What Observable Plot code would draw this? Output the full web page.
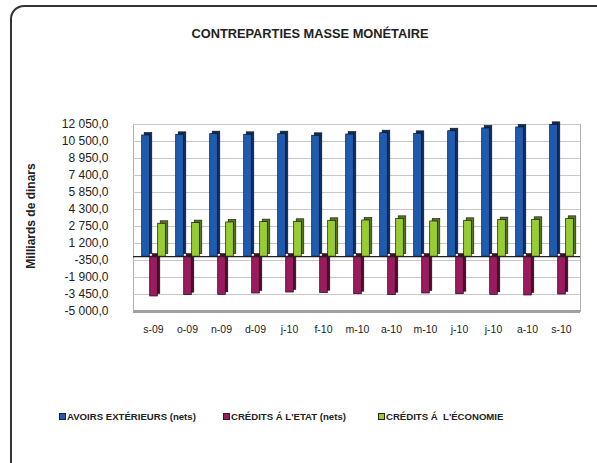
<!DOCTYPE html>
<html>
<head>
<meta charset="utf-8">
<script src="https://cdn.jsdelivr.net/npm/d3@7"></script>
<script src="https://cdn.jsdelivr.net/npm/@observablehq/plot@0.6"></script>
<style>
  body { margin:0; background:#fff; font-family:"Liberation Sans", Arial, sans-serif; }
  #wrap { position:relative; width:597px; height:463px; overflow:hidden; }
  #border { position:absolute; left:10px; top:5px; width:620px; height:480px; border:2px solid #333; border-top-left-radius:14px; box-sizing:border-box; }
  #title { position:absolute; left:0; width:620px; top:26px; text-align:center; font-weight:bold; font-size:12.8px; color:#222; }
  #ylab { position:absolute; left:31px; top:216px; transform:translate(-50%,-50%) rotate(-90deg); font-weight:bold; font-size:12px; color:#222; white-space:nowrap; }
  #chart { position:absolute; left:0; top:100px; }
  .leg { position:absolute; top:411px; font-weight:bold; font-size:9.6px; color:#222; white-space:nowrap; display:flex; align-items:center; }
  .leg i { display:inline-block; width:5px; height:5px; border:1px solid #222; margin-right:1px; }
</style>
</head>
<body>
<div id="wrap">
  <div id="border"></div>
  <div id="title">CONTREPARTIES MASSE MONÉTAIRE</div>
  <div id="ylab">Milliards de dinars</div>
  <div id="chart"></div>
  <div class="leg" style="left:59px"><i style="background:#1f5cb0"></i>AVOIRS EXTÉRIEURS (nets)</div>
  <div class="leg" style="left:223px"><i style="background:#9b1b5f"></i>CRÉDITS Á L'ETAT (nets)</div>
  <div class="leg" style="left:378px"><i style="background:#99cc33"></i>CRÉDITS Á&nbsp; L'ÉCONOMIE</div>
</div>
<script>
const months = ["s-09","o-09","n-09","d-09","j-10","f-10","m-10","a-10","m-10","j-10","j-10","a-10","s-10"];
const avoirs = [11050, 11110, 11170, 11110, 11170, 11020, 11140, 11260, 11200, 11440, 11690, 11780, 12020];
const creditsEtat = [-3630, -3510, -3480, -3360, -3270, -3330, -3420, -3510, -3360, -3420, -3480, -3540, -3450];
const creditsEco = [3000, 3060, 3120, 3150, 3180, 3270, 3300, 3450, 3210, 3270, 3330, 3360, 3450];
const yTicks = [12050, 10500, 8950, 7400, 5850, 4300, 2750, 1200, -350, -1900, -3450, -5000];

const fr = d3.formatLocale({decimal: ",", thousands: " ", grouping: [3], currency: ["", ""], minus: "-"});
const fmt = fr.format(",.1f");
const idx = d3.range(months.length);

const W = 8, inset = (447 / 13 - W) / 2;
function bars(vals, dx, fill, side) {
  return [
    Plot.barY(idx, {x: d => d, y: i => vals[i], fill: side, insetLeft: inset, insetRight: inset, dx: dx + 2.5, dy: -2.5, stroke: "#111", strokeWidth: 0.6}),
    Plot.barY(idx, {x: d => d, y: i => vals[i], fill, insetLeft: inset, insetRight: inset, dx, stroke: "#111", strokeWidth: 0.7})
  ];
}

const chart = Plot.plot({
  width: 597, height: 240,
  marginTop: 24, marginBottom: 29, marginLeft: 133, marginRight: 17,
  style: {fontFamily: "Liberation Sans, Arial, sans-serif", color: "#222", background: "transparent"},
  x: {domain: idx, type: "band", padding: 0},
  y: {domain: [-5000, 12050]},
  marks: [
    Plot.frame({stroke: "#b0b0b0", fill: "#fff"}),
    Plot.ruleY(yTicks, {stroke: "#c8c8c8"}),
    Plot.ruleY([-5000], {stroke: "#a0a0a0", strokeWidth: 3}),
    ...bars(creditsEtat, 0.5, "#9b1b5f", "#4a0c2d"),
    Plot.ruleY([0], {stroke: "#222", strokeWidth: 1.2}),
    ...bars(avoirs, -7.5, "#1f5cb0", "#0c2d60"),
    ...bars(creditsEco, 8.5, "#99cc33", "#58771c"),
    Plot.axisX({tickFormat: i => months[i], tickSize: 0, tickPadding: 14, fontSize: 10.5, label: null}),
    Plot.axisY({ticks: yTicks, tickFormat: fmt, tickSize: 0, tickPadding: 25, fontSize: 12, label: null})
  ]
});
document.getElementById("chart").appendChild(chart);
</script>
</body>
</html>
